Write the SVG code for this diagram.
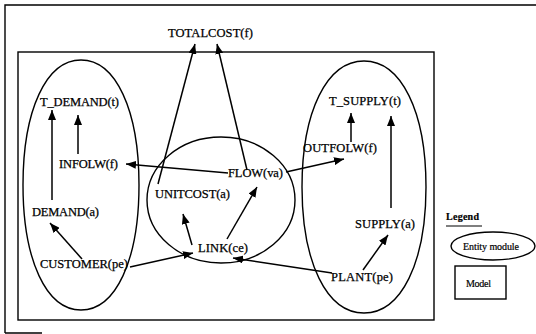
<svg xmlns="http://www.w3.org/2000/svg" width="536" height="334" viewBox="0 0 536 334">
<style>
.t{font-family:"Liberation Serif","Times New Roman",serif;font-size:12.5px;fill:#000;stroke:#000;stroke-width:0.25}
.lg{font-family:"Liberation Serif","Times New Roman",serif;font-size:10px;fill:#000;stroke:#000;stroke-width:0.2}
.sh{fill:none;stroke:#000;stroke-width:1.4}
.c{fill:none;stroke:#000;stroke-width:1.5;marker-end:url(#ah)}
</style>
<defs>
<marker id="ah" markerUnits="userSpaceOnUse" markerWidth="10" markerHeight="8" refX="10" refY="4" orient="auto">
<path d="M0,0 L10,4 L0,8 Z" fill="#000"/>
</marker>
</defs>
<rect width="536" height="334" fill="#fff"/>
<g id="frame">
<path class="sh" d="M5,333 V5 H536"/>
<path class="sh" d="M5,333 H42"/>
</g>
<g id="model">
<rect class="sh" x="18" y="52" width="416" height="268"/>
</g>
<g id="module-demand">
<path class="sh" d="M81,60 C115.8,60 139,110 139,185 C139,260 115.8,310 81,310 C46.2,310 23,260 23,185 C23,110 46.2,60 81,60 Z"/>
</g>
<g id="module-link">
<ellipse class="sh" cx="221" cy="200" rx="74" ry="63"/>
</g>
<g id="module-supply">
<path class="sh" d="M364,61 C401.2,61 426,111.4 426,187 C426,262.6 401.2,313 364,313 C326.8,313 302,262.6 302,187 C302,111.4 326.8,61 364,61 Z"/>
</g>
<g id="connectors">
<line class="c" x1="158" y1="184" x2="195" y2="44"/>
<line class="c" x1="247" y1="170" x2="217" y2="44"/>
<line class="c" x1="52" y1="200" x2="52" y2="110"/>
<line class="c" x1="78" y1="154" x2="78" y2="115"/>
<line class="c" x1="228" y1="173" x2="126" y2="164"/>
<line class="c" x1="286" y1="172" x2="344" y2="159"/>
<line class="c" x1="351" y1="142" x2="351" y2="113"/>
<line class="c" x1="391" y1="208" x2="391" y2="116"/>
<line class="c" x1="363" y1="270" x2="388" y2="235"/>
<line class="c" x1="82" y1="259" x2="50" y2="223"/>
<line class="c" x1="130" y1="267" x2="193" y2="253"/>
<line class="c" x1="332" y1="273" x2="233" y2="258"/>
<line class="c" x1="192" y1="245" x2="183" y2="214"/>
<line class="c" x1="227" y1="239" x2="257" y2="187"/>
</g>
<g id="totalcost"><text class="t" x="168" y="37" textLength="85">TOTALCOST(f)</text></g>
<g id="t_demand"><text class="t" x="40" y="106" textLength="79">T_DEMAND(t)</text></g>
<g id="infolw"><text class="t" x="59" y="168" textLength="59">INFOLW(f)</text></g>
<g id="demand"><text class="t" x="32" y="216" textLength="67">DEMAND(a)</text></g>
<g id="customer"><text class="t" x="40" y="268" textLength="88">CUSTOMER(pe)</text></g>
<g id="unitcost"><text class="t" x="155" y="198" textLength="75">UNITCOST(a)</text></g>
<g id="flow"><text class="t" x="228" y="177" textLength="55">FLOW(va)</text></g>
<g id="link"><text class="t" x="198" y="252" textLength="50">LINK(ce)</text></g>
<g id="t_supply"><text class="t" x="329" y="105" textLength="72">T_SUPPLY(t)</text></g>
<g id="outfolw"><text class="t" x="303" y="152" textLength="74">OUTFOLW(f)</text></g>
<g id="supply"><text class="t" x="355" y="228" textLength="60">SUPPLY(a)</text></g>
<g id="plant"><text class="t" x="331" y="281" textLength="62">PLANT(pe)</text></g>
<g id="legend">
<text class="lg" x="446" y="220" font-weight="bold" textLength="33">Legend</text>
<line x1="446" y1="226" x2="482" y2="226" stroke="#000" stroke-width="1.2"/>
<ellipse class="sh" cx="493" cy="246" rx="42" ry="14"/>
<text class="lg" x="463" y="250" textLength="56">Entity module</text>
<rect class="sh" x="455" y="266" width="51" height="33"/>
<text class="lg" x="466" y="287" textLength="25">Model</text>
</g>
</svg>
